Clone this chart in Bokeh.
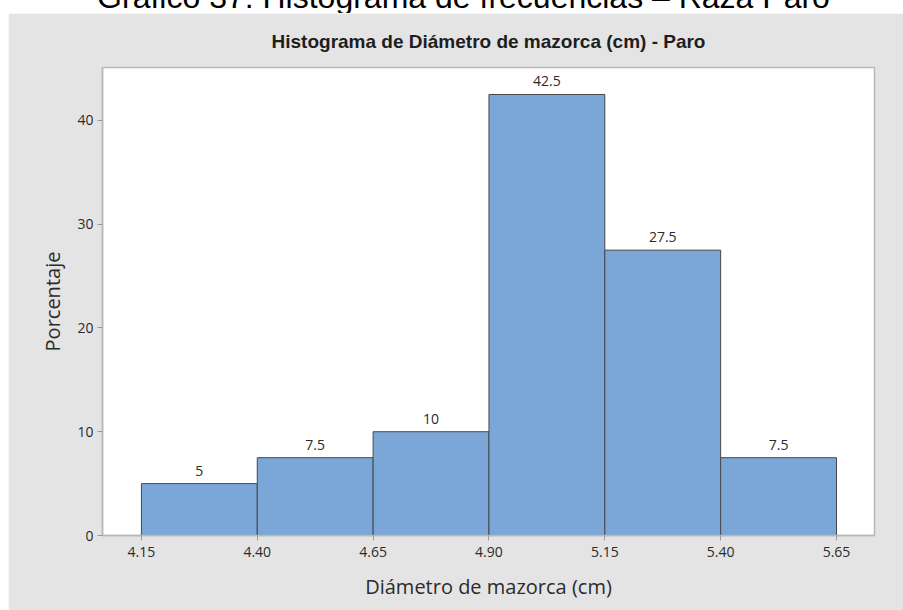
from bokeh.plotting import figure
from bokeh.models import ColumnDataSource, Range1d, FixedTicker, Div, Spacer
from bokeh.layouts import column, row
from bokeh.embed import file_html
from bokeh.resources import INLINE
from bokeh.core.properties import value

# ---- data ----
bin_edges = [4.15, 4.40, 4.65, 4.90, 5.15, 5.40, 5.65]
percentages = [5, 7.5, 10, 42.5, 27.5, 7.5]
bar_labels = ["5", "7.5", "10", "42.5", "27.5", "7.5"]
x_ticks = [4.15, 4.40, 4.65, 4.90, 5.15, 5.40, 5.65]
x_tick_labels = ["4.15", "4.40", "4.65", "4.90", "5.15", "5.40", "5.65"]
y_ticks = [0, 10, 20, 30, 40]

caption = "Gráfico 37: Histograma de frecuencias  – Raza Paro"
title = "Histograma de Diámetro de mazorca (cm) - Paro"
x_label = "Diámetro de mazorca (cm)"
y_label = "Porcentaje"

lefts = bin_edges[:-1]
rights = bin_edges[1:]
centers = [(a + b) / 2 for a, b in zip(lefts, rights)]
src = ColumnDataSource(dict(left=lefts, right=rights, top=percentages,
                            center=centers, label=bar_labels))

PANEL = "#e4e4e4"
TXT = "#2b2b2b"
GRID = "#b9b9b9"

TOTAL_W, TOTAL_H = 903, 610
STRIP_TOP, STRIP_LEFT = 13, 8
W, H = TOTAL_W - STRIP_LEFT, TOTAL_H - STRIP_TOP

p = figure(width=W, height=H, output_backend="svg", toolbar_location=None,
           x_range=Range1d(4.066, 5.732), y_range=Range1d(0, 45.1),
           min_border_left=94, min_border_right=29, min_border_top=54,
           min_border_bottom=75, margin=0)
p.border_fill_color = PANEL
p.background_fill_color = "white"
p.outline_line_color = GRID
p.outline_line_width = 1.5
p.grid.visible = False

p.quad(left="left", right="right", bottom=0, top="top", source=src,
       fill_color="#7ba6d8", line_color="#474747", line_width=1)
p.text(x="center", y="top", text="label", source=src, y_offset=-13,
       text_align="center", text_baseline="alphabetic",
       text_font=value("Open Sans"), text_font_size="14px", text_color=TXT)

# title
p.title.text = title
p.title.align = "center"
p.title.offset = -26
p.title.standoff = 31
p.title.text_font = "Liberation Sans"
p.title.text_font_size = "19px"
p.title.text_font_style = "bold"
p.title.text_color = "#1e1e1e"

for ax in (p.xaxis[0], p.yaxis[0]):
    ax.axis_line_color = GRID
    ax.axis_line_width = 1.5
    ax.major_tick_line_color = "#9a9a9a"
    ax.major_tick_in = 0
    ax.major_tick_out = 5
    ax.minor_tick_line_color = None
    ax.major_label_text_font = "Open Sans"
    ax.major_label_text_font_size = "14px"
    ax.major_label_text_color = TXT
    ax.axis_label_text_font = "Open Sans"
    ax.axis_label_text_font_size = "20px"
    ax.axis_label_text_font_style = "normal"
    ax.axis_label_text_color = TXT

p.xaxis.ticker = FixedTicker(ticks=x_ticks)
p.xaxis.major_label_overrides = {t: s for t, s in zip(x_ticks, x_tick_labels)}
p.yaxis.ticker = FixedTicker(ticks=y_ticks)
p.xaxis.axis_label = x_label
p.yaxis.axis_label = y_label
p.xaxis.major_label_standoff = 6
p.xaxis.axis_label_standoff = 13
p.yaxis.major_label_standoff = 4
p.yaxis.axis_label_standoff = 8

# caption of the document, only its lower part is visible above the chart panel
cap_html = (
    '<div style="position:relative; top:-19px; left:12px; width:%dpx; '
    'text-align:center; white-space:nowrap; font-family:\'Liberation Sans\', Arial; '
    'font-size:32px; line-height:32px; color:#000;">%s</div>' % (TOTAL_W, caption)
)
cap = Div(text=cap_html, width=TOTAL_W, height=STRIP_TOP, margin=0,
          styles={"overflow": "hidden", "background-color": "white"})

layout = column(
    cap,
    row(Spacer(width=STRIP_LEFT, height=H, margin=0), p, margin=0, spacing=0),
    margin=0, spacing=0,
)

open("out.html", "w").write(file_html(layout, INLINE))
